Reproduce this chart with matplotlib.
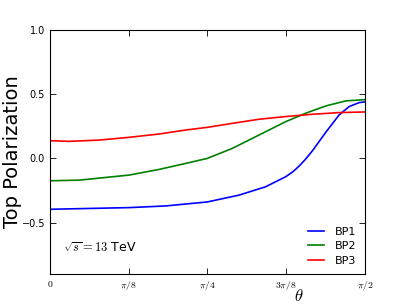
import numpy as np
import matplotlib
matplotlib.use('Agg')
import matplotlib.pyplot as plt

# values, theta in radians
theta_bp1 = [0.0, 0.393, 0.576, 0.784, 0.942, 1.075, 1.175, 1.211, 1.242, 1.275, 1.309, 1.376, 1.442, 1.492, 1.542, 1.571]
pol_bp1 = [-0.396, -0.383, -0.37, -0.339, -0.286, -0.221, -0.143, -0.104, -0.06, -0.005, 0.06, 0.205, 0.339, 0.404, 0.435, 0.44]

theta_bp2 = [0.0, 0.146, 0.393, 0.543, 0.676, 0.784, 0.909, 1.042, 1.175, 1.275, 1.376, 1.475, 1.571]
pol_bp2 = [-0.174, -0.169, -0.13, -0.086, -0.039, 0.0, 0.078, 0.182, 0.286, 0.352, 0.409, 0.448, 0.458]

theta_bp3 = [0.0, 0.097, 0.246, 0.393, 0.543, 0.676, 0.784, 0.909, 1.042, 1.175, 1.309, 1.442, 1.571]
pol_bp3 = [0.138, 0.133, 0.143, 0.164, 0.19, 0.221, 0.242, 0.273, 0.305, 0.326, 0.344, 0.357, 0.362]

xticks = [0, np.pi/8, np.pi/4, 3*np.pi/8, np.pi/2]
xticklabels = [r'$0$', r'$\pi/8$', r'$\pi/4$', r'$3\pi/8$', r'$\pi/2$']
yticks = [-0.5, 0.0, 0.5, 1.0]

plt.rcParams['mathtext.fontset'] = 'cm'

fig = plt.figure(figsize=(4.06, 3.05), dpi=100)
ax = fig.add_axes([0.123, 0.1016, 0.776, 0.80])

ax.plot(theta_bp1, pol_bp1, color='b', lw=1.2, label='BP1')
ax.plot(theta_bp2, pol_bp2, color='g', lw=1.2, label='BP2')
ax.plot(theta_bp3, pol_bp3, color='r', lw=1.2, label='BP3')

ax.set_xlim(0, np.pi/2)
ax.set_ylim(-0.9, 1.0)
ax.set_xticks(xticks)
ax.set_xticklabels(xticklabels, fontsize=7)
ax.set_yticks(yticks)
ax.set_yticklabels(['\u22120.5', '0.0', '0.5', '1.0'], fontsize=7)
ax.tick_params(direction='in', top=True, right=True, length=4, width=0.6)
for s in ax.spines.values():
    s.set_linewidth(0.8)

ax.set_ylabel('Top Polarization', fontsize=14)
ax.yaxis.set_label_coords(-0.088, 0.5)
ax.set_xlabel(r'$\theta$', fontsize=12)
ax.xaxis.set_label_coords(0.79, -0.055)

ax.text(0.04, 0.09, r'$\sqrt{s} = 13$ TeV', transform=ax.transAxes, fontsize=9)

ax.legend(loc='lower right', frameon=False, fontsize=8, handlelength=1.4,
          labelspacing=0.4, handletextpad=1.0, borderaxespad=0.35)

fig.savefig('out.png', dpi=100)
